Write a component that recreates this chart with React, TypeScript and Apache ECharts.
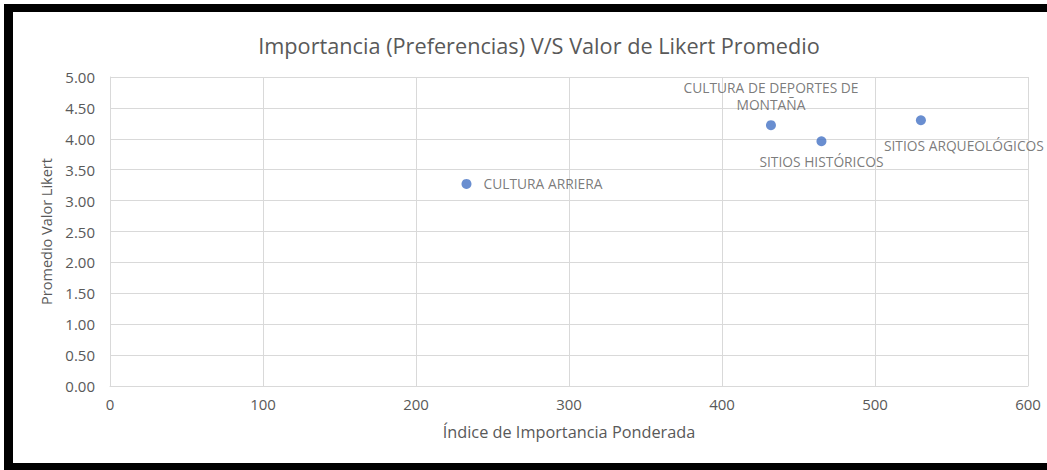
import React, { useEffect, useRef } from "react";
import * as echarts from "echarts";

const categories = [
  "CULTURA ARRIERA",
  "CULTURA DE DEPORTES DE\nMONTAÑA",
  "SITIOS HISTÓRICOS",
  "SITIOS ARQUEOLÓGICOS",
];
const importanceValues = [233, 432, 465, 530];
const likertValues = [3.27, 4.22, 3.96, 4.3];
const xTicks = { min: 0, max: 600, interval: 100 };
const yTicks = { min: 0, max: 5, interval: 0.5 };

const FONT = "Open Sans";
const GREY = "#595959";

const labelPositions: any[] = [
  { position: "right", distance: 12, align: "left", verticalAlign: "middle" },
  { position: [5, -24], align: "center", verticalAlign: "middle", lineHeight: 17 },
  { position: [5, 25], align: "center", verticalAlign: "middle" },
  { position: [48, 30], align: "center", verticalAlign: "middle" },
];

export default function App() {
  const ref = useRef<HTMLDivElement>(null);
  useEffect(() => {
    if (!ref.current) return;
    const chart = echarts.init(ref.current, undefined, { renderer: "svg" });
    const data = categories.map((name, i) => ({
      name,
      value: [importanceValues[i], likertValues[i]],
      label: {
        show: true,
        formatter: name,
        color: GREY,
        fontFamily: FONT,
        fontSize: 13.8,
        ...labelPositions[i],
      },
    }));
    chart.setOption({
      animation: false,
      backgroundColor: "#ffffff",
      title: {
        text: "Importancia (Preferencias) V/S Valor de Likert Promedio",
        left: 534,
        textAlign: "center",
        top: 29,
        textStyle: { fontFamily: FONT, fontSize: 21.7, fontWeight: "normal", color: GREY },
      },
      graphic: [
        { type: "rect", shape: { x: 4, y: 4, width: 1043, height: 8 }, style: { fill: "#000" } },
        { type: "rect", shape: { x: 4, y: 4, width: 9, height: 466 }, style: { fill: "#000" } },
        { type: "rect", shape: { x: 4, y: 463, width: 1043, height: 7 }, style: { fill: "#000" } },
      ],
      grid: { left: 110, right: 19, top: 77, bottom: 84 },
      xAxis: {
        type: "value",
        ...xTicks,
        name: "Índice de Importancia Ponderada",
        nameLocation: "middle",
        nameGap: 38,
        nameTextStyle: { fontFamily: FONT, fontSize: 16.3, color: GREY },
        axisLine: { show: true, lineStyle: { color: "#d9d9d9" } },
        axisTick: { show: false },
        axisLabel: { fontFamily: FONT, fontSize: 15, color: GREY, margin: 10 },
        splitLine: { show: true, lineStyle: { color: "#d9d9d9" } },
      },
      yAxis: {
        type: "value",
        ...yTicks,
        name: "Promedio Valor Likert",
        nameLocation: "middle",
        nameGap: 56,
        nameTextStyle: { fontFamily: FONT, fontSize: 14.5, color: GREY },
        axisLine: { show: true, lineStyle: { color: "#d9d9d9" } },
        axisTick: { show: false },
        axisLabel: {
          fontFamily: FONT,
          fontSize: 15,
          color: GREY,
          margin: 15,
          formatter: (v: number) => v.toFixed(2),
        },
        splitLine: { show: true, lineStyle: { color: "#d9d9d9" } },
      },
      series: [
        {
          type: "scatter",
          symbol: "circle",
          symbolSize: 10,
          itemStyle: { color: "#4472C4" },
          data,
        },
      ],
    });
    return () => chart.dispose();
  }, []);
  return (
    <div
      ref={ref}
      style={{ position: "fixed", left: 0, top: 0, width: 1047, height: 470 }}
    />
  );
}
